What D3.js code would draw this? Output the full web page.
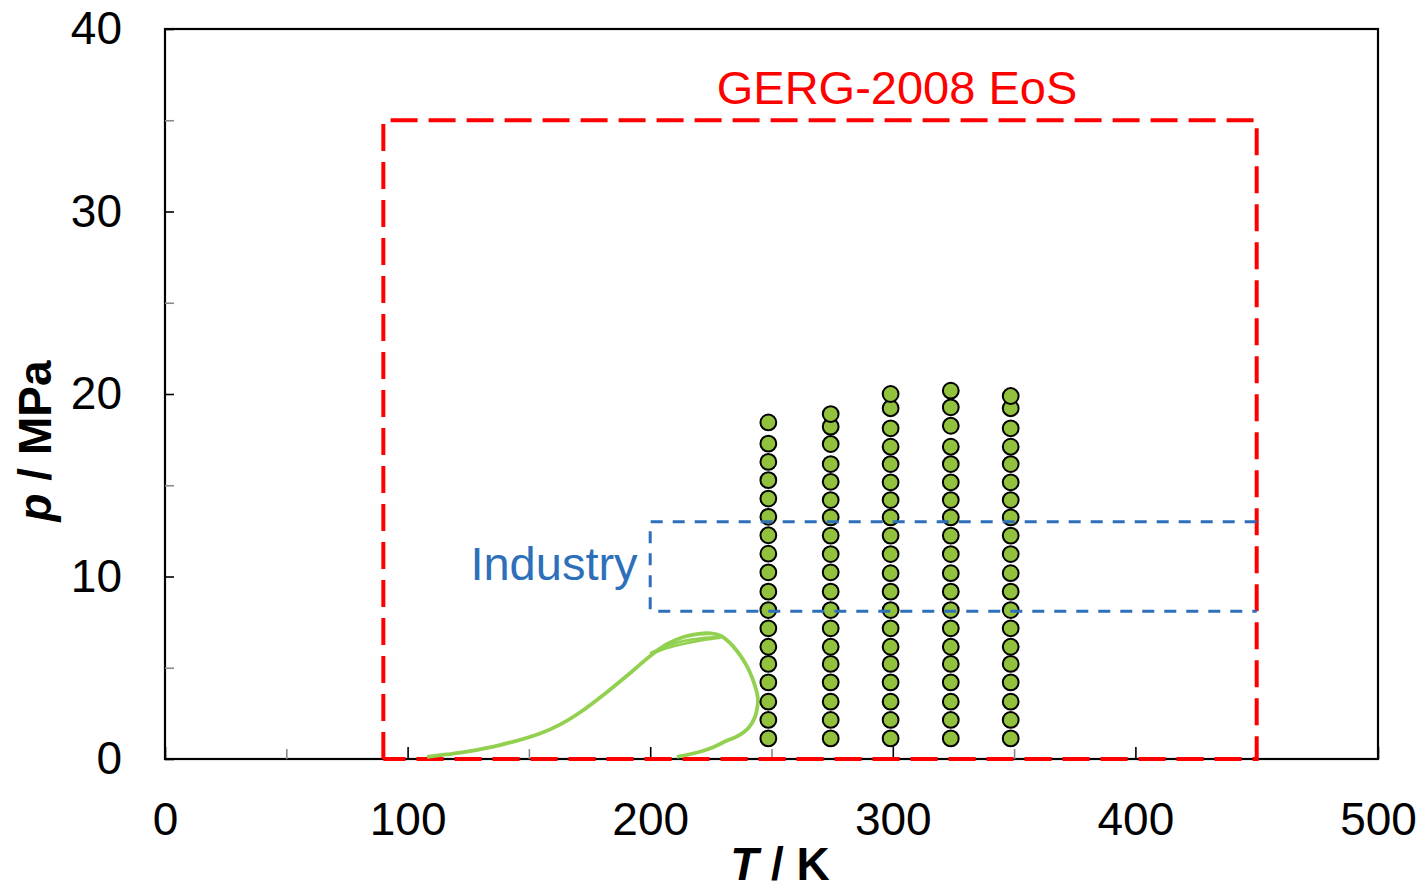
<!DOCTYPE html>
<html>
<head>
<meta charset="utf-8">
<script src="https://cdn.jsdelivr.net/npm/d3@7"></script>
<style>
  html, body { margin: 0; padding: 0; background: #fff; }
  svg { display: block; font-family: "Liberation Sans", Arial, sans-serif; }
</style>
</head>
<body>
<svg id="chart" width="1423" height="886"></svg>
<script>
// Axis ticks
const xMajorTicks = [0, 100, 200, 300, 400, 500];
const xMinorTicks = [50, 150, 250, 350, 450];
const yMajorTicks = [0, 10, 20, 30, 40];
const yMinorTicks = [5, 15, 25, 35];

// Validity range of the GERG-2008 equation of state (T in K, p in MPa)
const gergT = [90, 90, 450, 450, 90];
const gergP = [0, 35, 35, 0, 0];

// Typical industrial operating window
const industryT = [450, 200, 200, 450];
const industryP = [13, 13, 8.1, 8.1];

// Measured isotherms: temperature and pressures of each point
const isoT = [248.7, 274.4, 299.1, 323.9, 348.6];
const isoP250 = [1.13, 2.14, 3.14, 4.2, 5.21, 6.15, 7.16, 8.16, 9.17, 10.23, 11.25, 12.26, 13.27, 14.27, 15.28, 16.28, 17.28, 18.44];
const isoP275 = [1.13, 2.14, 3.14, 4.2, 5.21, 6.15, 7.16, 8.16, 9.17, 10.23, 11.23, 12.24, 13.24, 14.19, 15.19, 16.16, 17.26, 18.21, 18.9];
const isoP300 = [1.13, 2.14, 3.14, 4.2, 5.21, 6.15, 7.16, 8.16, 9.17, 10.18, 11.23, 12.24, 13.24, 14.19, 15.16, 16.16, 17.11, 18.12, 19.22, 20.0];
const isoP325 = [1.13, 2.14, 3.14, 4.2, 5.21, 6.15, 7.16, 8.16, 9.17, 10.18, 11.23, 12.24, 13.24, 14.19, 15.16, 16.16, 17.11, 18.26, 19.27, 20.18];
const isoP350 = [1.13, 2.14, 3.14, 4.2, 5.21, 6.15, 7.16, 8.16, 9.17, 10.18, 11.23, 12.24, 13.24, 14.19, 15.16, 16.16, 17.11, 18.12, 19.22, 19.89];
const isoP = [isoP250, isoP275, isoP300, isoP325, isoP350];

// Phase envelope (bubble branch, cricondenbar, dew branch)
const envT = [108, 116, 124.4, 138, 154.6, 163, 171, 182, 193, 200, 207, 214, 220, 225, 229, 234, 239.8, 243.2, 244.4, 244.2, 243.2, 240.5, 236, 231.5, 226, 220.5, 215, 211];
const envP = [0.12, 0.25, 0.4, 0.76, 1.4, 1.9, 2.55, 3.65, 4.85, 5.65, 6.3, 6.7, 6.86, 6.88, 6.75, 6.2, 5.1, 4.0, 3.3, 2.87, 2.3, 1.7, 1.25, 1.0, 0.65, 0.4, 0.22, 0.12];
// Neighbouring envelope strands near the cricondenbar
const strandT = [200, 207, 214, 221, 229];
const strandP1 = [5.72, 6.08, 6.32, 6.5, 6.64];
const strandP2 = [5.8, 6.2, 6.48, 6.62, 6.7];

const svg = d3.select("#chart");
const x = d3.scaleLinear().domain([0, 500]).range([165, 1378]);
const y = d3.scaleLinear().domain([0, 40]).range([759, 29]);

const red = "#ff0000";
const blue = "#2e6fba";
const green = "#92d050";

// Plot frame
svg.append("rect")
  .attr("x", x(0)).attr("y", y(40))
  .attr("width", x(500) - x(0)).attr("height", y(0) - y(40))
  .attr("fill", "none").attr("stroke", "#000").attr("stroke-width", 2.2);

// Minor ticks (inside the frame, grey)
svg.append("g").attr("transform", `translate(0,${y(0)})`)
  .call(d3.axisBottom(x).tickValues(xMinorTicks).tickSize(-10).tickFormat(""))
  .call(g => g.select(".domain").remove())
  .call(g => g.selectAll("line").attr("stroke", "#8a8a8a").attr("stroke-width", 1.6));
svg.append("g").attr("transform", `translate(${x(0)},0)`)
  .call(d3.axisLeft(y).tickValues(yMinorTicks).tickSize(-9).tickFormat(""))
  .call(g => g.select(".domain").remove())
  .call(g => g.selectAll("line").attr("stroke", "#8a8a8a").attr("stroke-width", 1.6));

// Major ticks with labels
svg.append("g").attr("transform", `translate(0,${y(0)})`)
  .call(d3.axisBottom(x).tickValues(xMajorTicks).tickSize(-12).tickPadding(43))
  .call(g => g.select(".domain").remove())
  .call(g => g.selectAll("line").attr("stroke", "#000").attr("stroke-width", 1.6))
  .call(g => g.selectAll("text").attr("font-size", 46).attr("fill", "#000")
    .attr("font-family", "Liberation Sans, Arial, sans-serif"));
svg.append("g").attr("transform", `translate(${x(0)},0)`)
  .call(d3.axisLeft(y).tickValues(yMajorTicks).tickSize(-9).tickPadding(43))
  .call(g => g.select(".domain").remove())
  .call(g => g.selectAll("line").attr("stroke", "#000").attr("stroke-width", 1.6))
  .call(g => g.selectAll("text").attr("font-size", 46).attr("fill", "#000")
    .attr("font-family", "Liberation Sans, Arial, sans-serif"));

// Axis titles
const xTitle = svg.append("text")
  .attr("x", 780).attr("y", 880)
  .attr("text-anchor", "middle")
  .attr("font-size", 46).attr("font-weight", "bold");
xTitle.append("tspan").attr("font-style", "italic").text("T");
xTitle.append("tspan").text(" / K");

const yTitle = svg.append("text")
  .attr("transform", "translate(51,441) rotate(-90)")
  .attr("text-anchor", "middle")
  .attr("font-size", 46).attr("font-weight", "bold");
yTitle.append("tspan").attr("font-style", "italic").text("p");
yTitle.append("tspan").text(" / MPa");

const line = d3.line().x(d => x(d[0])).y(d => y(d[1]));

// GERG-2008 range
svg.append("path")
  .datum(gergT.map((t, i) => [t, gergP[i]]))
  .attr("d", line)
  .attr("fill", "none").attr("stroke", red).attr("stroke-width", 4)
  .attr("stroke-dasharray", "27,11");

// Phase envelope
const curve = d3.line().x(d => x(d[0])).y(d => y(d[1])).curve(d3.curveCatmullRom);
svg.append("path")
  .datum(envT.map((t, i) => [t, envP[i]]))
  .attr("d", curve)
  .attr("fill", "none").attr("stroke", green).attr("stroke-width", 3.8)
  .attr("stroke-linejoin", "round");
[strandP1, strandP2].forEach(ps => {
  svg.append("path")
    .datum(strandT.map((t, i) => [t, ps[i]]))
    .attr("d", curve)
    .attr("fill", "none").attr("stroke", green).attr("stroke-width", 2.6);
});

// Measured points
const pts = [];
isoT.forEach((t, k) => isoP[k].forEach(p => pts.push([t, p])));
svg.append("g").selectAll("circle")
  .data(pts).join("circle")
  .attr("cx", d => x(d[0])).attr("cy", d => y(d[1]))
  .attr("r", 7.9)
  .attr("fill", "#92c13e").attr("stroke", "#000").attr("stroke-width", 2);

// Industrial window
svg.append("path")
  .datum(industryT.map((t, i) => [t, industryP[i]]))
  .attr("d", line)
  .attr("fill", "none").attr("stroke", blue).attr("stroke-width", 3)
  .attr("stroke-dasharray", "12,10");

// Labels
svg.append("text")
  .attr("x", 897).attr("y", 104)
  .attr("text-anchor", "middle")
  .attr("font-size", 47).attr("fill", red)
  .text("GERG-2008 EoS");
svg.append("text")
  .attr("x", 554).attr("y", 580)
  .attr("text-anchor", "middle")
  .attr("font-size", 47).attr("fill", blue)
  .text("Industry");
</script>
</body>
</html>
